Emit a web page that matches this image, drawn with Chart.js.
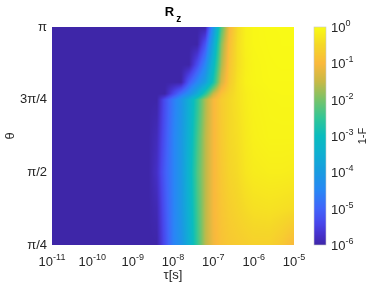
<!DOCTYPE html>
<html>
<head>
<meta charset="utf-8">
<script src="https://cdn.jsdelivr.net/npm/chart.js@4.4.0/dist/chart.umd.min.js"></script>
<style>
  html, body { margin: 0; padding: 0; background: #fff; }
</style>
</head>
<body>
<canvas id="chart" width="374" height="286"></canvas>
<script>
// grid of the map: tau as exponent of 10, theta in units of pi
const tauExp = [-11, -8.6, -8.4, -8.2, -8.0, -7.8, -7.6, -7.4, -7.2, -7.0, -6.8, -6.6, -6.4, -6.2, -6.0, -5.6, -5.3, -5.0];
const thetaPi = [0.25, 0.375, 0.5, 0.62, 0.75, 0.77, 0.81, 0.87, 0.94, 1.0];

// log10(1-F), one row per theta, one value per tauExp
const row025  = [-6, -6, -6,    -5.3, -4.6, -4.2, -3.5, -2.5, -1.6, -1.1,  -0.85, -0.75, -0.7,  -0.65, -0.6,  -0.6,  -0.75, -1.0];
const row0375 = [-6, -6, -5.9,  -5.2, -4.6, -4.1, -3.4, -2.4, -1.6, -1.05, -0.8,  -0.65, -0.55, -0.45, -0.38, -0.35, -0.38, -0.42];
const row050  = [-6, -6, -5.75, -5.1, -4.6, -4.1, -3.3, -2.3, -1.6, -1.05, -0.75, -0.55, -0.45, -0.3,  -0.22, -0.18, -0.18, -0.2];
const row062  = [-6, -6, -5.85, -5.2, -4.6, -4.1, -3.4, -2.4, -1.6, -1.05, -0.72, -0.5,  -0.4,  -0.25, -0.15, -0.1,  -0.1,  -0.1];
const row075  = [-6, -6, -6,    -5.3, -4.7, -4.2, -3.5, -2.6, -1.7, -1.05, -0.7,  -0.5,  -0.35, -0.2,  -0.12, -0.08, -0.07, -0.07];
const row077  = [-6, -6, -6,    -6,   -5.4, -4.8, -4.3, -3.6, -2.6, -1.5,  -0.85, -0.55, -0.35, -0.2,  -0.12, -0.07, -0.06, -0.06];
const row081  = [-6, -6, -6,    -6,   -6,   -6,   -5.1, -4.5, -3.9, -2.8,  -1.4,  -0.7,  -0.35, -0.15, -0.08, -0.05, -0.05, -0.05];
const row087  = [-6, -6, -6,    -6,   -6,   -6,   -6,   -5.3, -4.5, -3.2,  -1.7,  -0.8,  -0.4,  -0.18, -0.08, -0.04, -0.03, -0.03];
const row094  = [-6, -6, -6,    -6,   -6,   -6,   -6,   -6,   -5.2, -3.7,  -1.9,  -0.9,  -0.4,  -0.15, -0.06, -0.03, -0.02, -0.02];
const row100  = [-6, -6, -6,    -6,   -6,   -6,   -6,   -6,   -6,   -4.2,  -2.3,  -1.05, -0.45, -0.15, -0.06, -0.02, -0.02, -0.02];
const rows = [row025, row0375, row050, row062, row075, row077, row081, row087, row094, row100];

// axis ticks
const tauTicks = [-11, -10, -9, -8, -7, -6, -5];
const thetaTicks = [Math.PI / 4, Math.PI / 2, 3 * Math.PI / 4, Math.PI];
const thetaLabels = ['π/4', 'π/2', '3π/4', 'π'];
const cbarTicks = [-6, -5, -4, -3, -2, -1, 0];

// parula-like colour map, position 0..1
const cmapStops = [
    [0.000, 62, 38, 168], [0.050, 70, 50, 205], [0.100, 72, 70, 235],
    [0.167, 65, 100, 250], [0.250, 40, 135, 245], [0.333, 25, 155, 225],
    [0.417, 15, 175, 210], [0.500, 10, 188, 190], [0.583, 50, 198, 150],
    [0.667, 120, 195, 105], [0.750, 200, 185, 70], [0.833, 250, 185, 60],
    [0.917, 245, 215, 40], [1.000, 249, 251, 20]
];

const FONT = "'Liberation Sans', Arial, Helvetica, sans-serif";
const TXT = '#262626';

function cmap(f) {
    f = Math.max(0, Math.min(1, f));
    let k = 0;
    while (k < cmapStops.length - 2 && cmapStops[k + 1][0] < f) k++;
    const a = cmapStops[k], b = cmapStops[k + 1];
    const t = (f - a[0]) / (b[0] - a[0]);
    return [a[1] + (b[1] - a[1]) * t, a[2] + (b[2] - a[2]) * t, a[3] + (b[3] - a[3]) * t];
}

function locate(arr, v) {
    const n = arr.length - 1;
    if (v <= arr[0]) return [0, 0];
    if (v >= arr[n]) return [n - 1, 1];
    let k = 0;
    while (arr[k + 1] < v) k++;
    return [k, (v - arr[k]) / (arr[k + 1] - arr[k])];
}

// draws "10" with a raised exponent; align: 'center' or 'left'
function drawPow(ctx, exp, x, baseline, align) {
    ctx.save();
    ctx.fillStyle = TXT;
    ctx.textBaseline = 'alphabetic';
    ctx.textAlign = 'left';
    ctx.font = '13px ' + FONT;
    const wb = ctx.measureText('10').width;
    ctx.font = '9px ' + FONT;
    const we = ctx.measureText(String(exp)).width;
    let x0 = align === 'center' ? x - (wb + we) / 2 : x;
    ctx.font = '13px ' + FONT;
    ctx.fillText('10', x0, baseline);
    ctx.font = '9px ' + FONT;
    ctx.fillText(String(exp), x0 + wb, baseline - 6);
    ctx.restore();
}

const heatmapPlugin = {
    id: 'heatmap',
    beforeDatasetsDraw(chart) {
        const { ctx, chartArea: a, scales: { x, y, c } } = chart;
        const w = Math.round(a.right - a.left), h = Math.round(a.bottom - a.top);
        const off = document.createElement('canvas');
        off.width = w; off.height = h;
        const octx = off.getContext('2d');
        const img = octx.createImageData(w, h);
        for (let j = 0; j < h; j++) {
            const th = y.getValueForPixel(a.top + j + 0.5) / Math.PI;
            const [r, s] = locate(thetaPi, th);
            for (let i = 0; i < w; i++) {
                const lt = Math.log10(x.getValueForPixel(a.left + i + 0.5));
                const [k, u] = locate(tauExp, lt);
                const z = (1 - s) * ((1 - u) * rows[r][k] + u * rows[r][k + 1]) +
                          s * ((1 - u) * rows[r + 1][k] + u * rows[r + 1][k + 1]);
                const col = cmap((z + 6) / 6);
                const p = (j * w + i) * 4;
                img.data[p] = col[0]; img.data[p + 1] = col[1]; img.data[p + 2] = col[2]; img.data[p + 3] = 255;
            }
        }
        octx.putImageData(img, 0, 0);
        ctx.drawImage(off, a.left, a.top);

        // colour bar, drawn along its own log scale
        const bx = c.left + 20, bw = 12;
        const top = c.getPixelForValue(1), bot = c.getPixelForValue(1e-6);
        for (let py = Math.floor(top); py < Math.ceil(bot); py++) {
            const v = Math.log10(c.getValueForPixel(py + 0.5));
            const col = cmap((v + 6) / 6);
            ctx.fillStyle = 'rgb(' + col.map(Math.round).join(',') + ')';
            ctx.fillRect(bx, py, bw, 1);
        }
        ctx.strokeStyle = '#c8c8c8';
        ctx.lineWidth = 0.6;
        ctx.strokeRect(bx, top, bw, bot - top);
    },
    afterDraw(chart) {
        const { ctx, chartArea: a, scales: { x, c } } = chart;
        // x tick labels
        tauTicks.forEach(e => drawPow(ctx, e, x.getPixelForValue(Math.pow(10, e)), a.bottom + 21, 'center'));
        // colour bar tick labels
        cbarTicks.forEach(e => drawPow(ctx, e, c.left + 37, c.getPixelForValue(Math.pow(10, e)) + 5, 'left'));

        ctx.save();
        ctx.fillStyle = TXT;
        // x title
        ctx.font = '13px ' + FONT;
        ctx.textAlign = 'center';
        ctx.textBaseline = 'middle';
        ctx.fillText('τ[s]', (a.left + a.right) / 2, 275);
        // colour bar label
        ctx.font = '11px ' + FONT;
        ctx.translate(c.right - 11, (a.top + a.bottom) / 2);
        ctx.rotate(-Math.PI / 2);
        ctx.fillText('1-F', 0, 0);
        ctx.restore();

        // title R_z
        ctx.save();
        ctx.fillStyle = '#000';
        ctx.textBaseline = 'alphabetic';
        ctx.textAlign = 'left';
        ctx.font = 'bold 13px ' + FONT;
        const wr = ctx.measureText('R').width;
        ctx.font = 'bold 10px ' + FONT;
        const wz = ctx.measureText('z').width;
        const tx = (a.left + a.right) / 2 - (wr + wz + 2) / 2;
        ctx.font = 'bold 13px ' + FONT;
        ctx.fillText('R', tx, 16);
        ctx.font = 'bold 10px ' + FONT;
        ctx.fillText('z', tx + wr + 2, 22);
        ctx.restore();
    }
};

new Chart(document.getElementById('chart'), {
    type: 'scatter',
    data: { datasets: [] },
    options: {
        responsive: false,
        animation: false,
        layout: { padding: { top: 27, left: 0, right: 0, bottom: 0 } },
        plugins: { legend: { display: false }, tooltip: { enabled: false }, title: { display: false } },
        scales: {
            x: {
                type: 'logarithmic',
                position: 'bottom',
                min: 1e-11,
                max: 1e-5,
                grid: { display: false, drawTicks: false },
                border: { display: false },
                ticks: { display: false },
                afterFit: s => { s.height = 41; }
            },
            y: {
                type: 'linear',
                position: 'left',
                min: Math.PI / 4,
                max: Math.PI,
                afterBuildTicks: s => { s.ticks = thetaTicks.map(v => ({ value: v })); },
                ticks: {
                    padding: 5,
                    color: TXT,
                    font: { family: FONT, size: 13 },
                    callback: v => {
                        const i = thetaTicks.findIndex(t => Math.abs(t - v) < 1e-6);
                        return i >= 0 ? thetaLabels[i] : '';
                    }
                },
                grid: { display: false, drawTicks: false },
                border: { display: false },
                title: { display: true, text: 'θ', color: TXT, font: { family: FONT, size: 13 }, padding: { top: 3, bottom: 0 } },
                afterFit: s => { s.width = 52; }
            },
            c: {
                type: 'logarithmic',
                axis: 'y',
                position: 'right',
                min: 1e-6,
                max: 1,
                grid: { display: false, drawTicks: false },
                border: { display: false },
                ticks: { display: false },
                afterFit: s => { s.width = 80; }
            }
        }
    },
    plugins: [heatmapPlugin]
});
</script>
</body>
</html>
